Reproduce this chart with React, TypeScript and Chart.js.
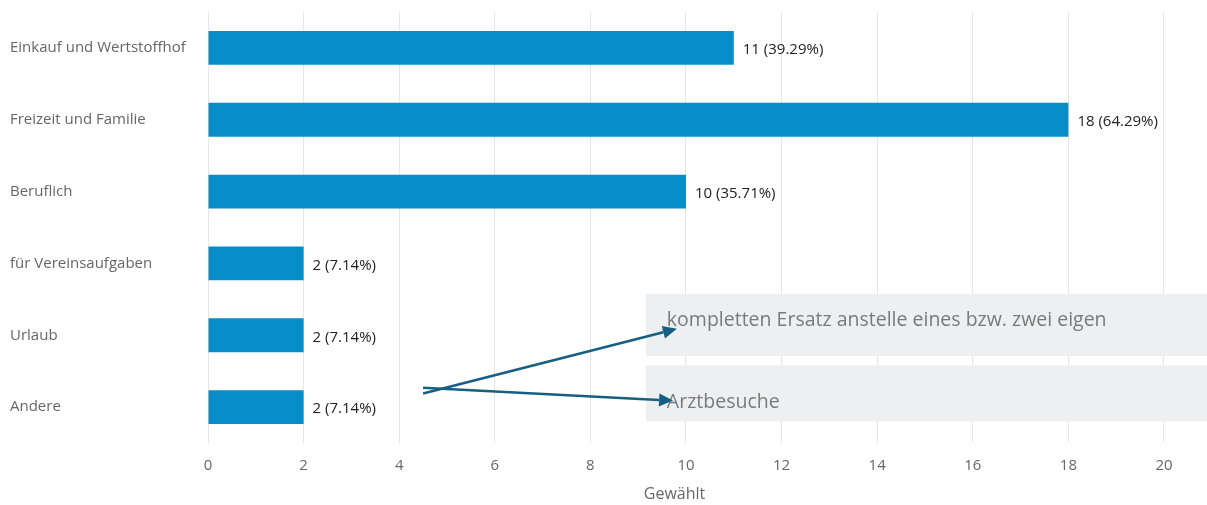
import React, { useEffect, useRef } from "react";
import { Chart, registerables } from "chart.js";

Chart.register(...registerables);

const categories = [
  "Einkauf und Wertstoffhof",
  "Freizeit und Familie",
  "Beruflich",
  "für Vereinsaufgaben",
  "Urlaub",
  "Andere",
];
const counts = [11, 18, 10, 2, 2, 2];
const percentages = ["39.29%", "64.29%", "35.71%", "7.14%", "7.14%", "7.14%"];
const xAxisTitle = "Gewählt";
const xAxisMax = 20.9;
const xAxisStep = 2;

// Annotation callouts, in data coordinates (x = value, y = category index)
const calloutTexts = ["kompletten Ersatz anstelle eines bzw. zwei eigen", "Arztbesuche"];
const calloutBoxX = [9.16, 9.16];
const calloutBoxTop = [3.425, 4.42];
const calloutBoxBottom = [4.29, 5.2];
const calloutTextX = [9.6, 9.6];
const calloutTextY = [3.79, 4.94];
const arrowStartX = [4.5, 4.5];
const arrowStartY = [4.81, 4.73];
const arrowEndX = [9.81, 9.73];
const arrowEndY = [3.91, 4.91];

const FONT = "'Open Sans', 'Noto Sans', sans-serif";

const overlayPlugin = {
  id: "overlay",
  afterDatasetsDraw(chart: any) {
    const ctx = chart.ctx;
    const xs = chart.scales.x;
    const ys = chart.scales.y;
    const area = chart.chartArea;

    // value labels
    const meta = chart.getDatasetMeta(0);
    ctx.save();
    ctx.font = `15px ${FONT}`;
    ctx.fillStyle = "#222";
    ctx.textAlign = "left";
    ctx.textBaseline = "middle";
    meta.data.forEach((bar: any, i: number) => {
      ctx.fillText(`${counts[i]} (${percentages[i]})`, bar.x + 9, bar.y + 2);
    });
    ctx.restore();

    // axis title
    ctx.save();
    ctx.font = `16px ${FONT}`;
    ctx.fillStyle = "#666";
    ctx.textAlign = "center";
    ctx.textBaseline = "middle";
    ctx.fillText(xAxisTitle, xs.getPixelForValue(9.76), area.bottom + 51);
    ctx.restore();

    // callout boxes
    ctx.save();
    for (let i = 0; i < calloutTexts.length; i++) {
      const x0 = xs.getPixelForValue(calloutBoxX[i]);
      const y0 = ys.getPixelForValue(calloutBoxTop[i]);
      const y1 = ys.getPixelForValue(calloutBoxBottom[i]);
      ctx.fillStyle = "#eeeff1";
      ctx.fillRect(x0, y0, area.right - x0, y1 - y0);
      ctx.font = `19.5px ${FONT}`;
      ctx.fillStyle = "#7a7a7a";
      ctx.textAlign = "left";
      ctx.textBaseline = "middle";
      ctx.fillText(calloutTexts[i], xs.getPixelForValue(calloutTextX[i]), ys.getPixelForValue(calloutTextY[i]));
    }
    ctx.restore();

    // arrows
    ctx.save();
    ctx.strokeStyle = "#175f82";
    ctx.fillStyle = "#175f82";
    ctx.lineWidth = 2.5;
    for (let i = 0; i < arrowStartX.length; i++) {
      const sx = xs.getPixelForValue(arrowStartX[i]);
      const sy = ys.getPixelForValue(arrowStartY[i]);
      const ex = xs.getPixelForValue(arrowEndX[i]);
      const ey = ys.getPixelForValue(arrowEndY[i]);
      const ang = Math.atan2(ey - sy, ex - sx);
      const headLen = 14;
      const headW = 6.5;
      const bx = ex - headLen * Math.cos(ang);
      const by = ey - headLen * Math.sin(ang);
      ctx.beginPath();
      ctx.moveTo(sx, sy);
      ctx.lineTo(bx, by);
      ctx.stroke();
      ctx.beginPath();
      ctx.moveTo(ex, ey);
      ctx.lineTo(bx + headW * Math.sin(ang), by - headW * Math.cos(ang));
      ctx.lineTo(bx - headW * Math.sin(ang), by + headW * Math.cos(ang));
      ctx.closePath();
      ctx.fill();
    }
    ctx.restore();
  },
};

export default function App() {
  const canvasRef = useRef<HTMLCanvasElement | null>(null);

  useEffect(() => {
    if (!canvasRef.current) return;
    const chart = new Chart(canvasRef.current, {
      type: "bar",
      data: {
        labels: categories,
        datasets: [
          {
            data: counts,
            backgroundColor: "#078ec8",
            borderWidth: 0,
            barPercentage: 0.94,
            categoryPercentage: 0.5,
          },
        ],
      },
      options: {
        indexAxis: "y",
        animation: false,
        responsive: false,
        maintainAspectRatio: false,
        layout: { padding: { top: 10, left: 10, right: 0, bottom: 0 } },
        plugins: {
          legend: { display: false },
          tooltip: { enabled: false },
          title: { display: false },
        },
        scales: {
          x: {
            min: 0,
            max: xAxisMax,
            afterFit: (scale: any) => {
              scale.height = 62;
            },
            ticks: {
              stepSize: xAxisStep,
              includeBounds: false,
              color: "#666",
              font: { family: FONT, size: 15 },
              padding: 14,
            },
            grid: { color: "#e6e6e6", lineWidth: 1, drawTicks: false },
            border: { display: false },
          },
          y: {
            afterFit: (scale: any) => {
              scale.width = 198;
            },
            ticks: {
              crossAlign: "far",
              color: "#666",
              font: { family: FONT, size: 15 },
            },
            grid: { display: false },
            border: { display: false },
          },
        },
      },
      plugins: [overlayPlugin],
    });
    return () => chart.destroy();
  }, []);

  return (
    <div style={{ position: "absolute", left: 0, top: 0, width: 1207, height: 505, background: "#fff" }}>
      <canvas ref={canvasRef} width={1207} height={505} style={{ display: "block" }} />
    </div>
  );
}
